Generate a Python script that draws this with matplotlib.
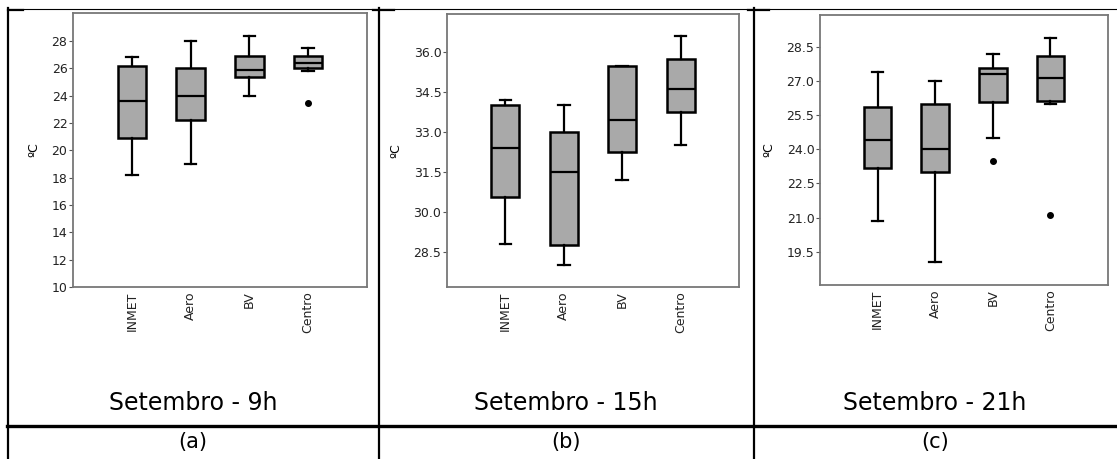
import matplotlib.pyplot as plt
from matplotlib.lines import Line2D

W, H = 1117, 459

stations = ['INMET', 'Aero', 'BV', 'Centro']

# box stats per panel: whisker low, Q1, median, Q3, whisker high
set_9h = {
    'whislo': [18.2, 19.0, 24.0, 25.8],
    'q1':     [20.9, 22.2, 25.4, 26.0],
    'med':    [23.6, 24.0, 25.9, 26.4],
    'q3':     [26.2, 26.0, 26.9, 26.9],
    'whishi': [26.8, 28.0, 28.4, 27.5],
}
fliers_9h = [[], [], [], [23.5]]

set_15h = {
    'whislo': [28.8, 28.0, 31.2, 32.5],
    'q1':     [30.55, 28.75, 32.25, 33.75],
    'med':    [32.4, 31.5, 33.45, 34.6],
    'q3':     [34.0, 33.0, 35.5, 35.75],
    'whishi': [34.2, 34.0, 35.5, 36.6],
}
fliers_15h = [[], [], [], []]

set_21h = {
    'whislo': [20.85, 19.05, 24.5, 26.0],
    'q1':     [23.2, 23.0, 26.1, 26.15],
    'med':    [24.4, 24.0, 27.3, 27.15],
    'q3':     [25.85, 26.0, 27.6, 28.1],
    'whishi': [27.4, 27.0, 28.2, 28.9],
}
fliers_21h = [[], [], [23.5], [21.1]]

titles = ['Setembro - 9h', 'Setembro - 15h', 'Setembro - 21h']
letters = ['(a)', '(b)', '(c)']

yticks_9h = [10, 12, 14, 16, 18, 20, 22, 24, 26, 28]
yticks_15h = [28.5, 30.0, 31.5, 33.0, 34.5, 36.0]
yticks_21h = [19.5, 21.0, 22.5, 24.0, 25.5, 27.0, 28.5]


def make_stats(d, fliers):
    out = []
    for i, name in enumerate(stations):
        out.append({'label': name, 'whislo': d['whislo'][i], 'q1': d['q1'][i],
                    'med': d['med'][i], 'q3': d['q3'][i], 'whishi': d['whishi'][i],
                    'fliers': fliers[i]})
    return out


def px_axes(fig, left, right, top, bottom):
    return fig.add_axes([left / W, (H - bottom) / H, (right - left) / W, (bottom - top) / H])


panels = [
    (set_9h, fliers_9h, yticks_9h, (10, 30.05), '{:.0f}', (73, 367, 13, 287)),
    (set_15h, fliers_15h, yticks_15h, (27.17, 37.44), '{:.1f}', (447, 739, 14, 287)),
    (set_21h, fliers_21h, yticks_21h, (18.03, 29.92), '{:.1f}', (820, 1108, 15, 285)),
]

fig = plt.figure(figsize=(W / 100, H / 100), dpi=100)

for d, fl, yt, ylim, fmt, box in panels:
    ax = px_axes(fig, *box)
    ax.bxp(make_stats(d, fl), positions=[1, 2, 3, 4], widths=0.48, capwidths=0.2,
           patch_artist=True,
           boxprops=dict(facecolor='#a9a9a9', edgecolor='black', linewidth=1.8),
           medianprops=dict(color='black', linewidth=1.6),
           whiskerprops=dict(color='black', linewidth=1.6),
           capprops=dict(color='black', linewidth=1.6),
           flierprops=dict(marker='o', markerfacecolor='black', markeredgecolor='black',
                           markersize=4))
    ax.set_xlim(0, 5)
    ax.set_ylim(*ylim)
    ax.set_yticks(yt)
    ax.set_yticklabels([fmt.format(v) for v in yt], fontsize=9, color='#222222')
    ax.set_xticks([1, 2, 3, 4])
    ax.set_xticklabels(stations, rotation=90, fontsize=9, color='#222222')
    ax.tick_params(axis='x', length=0, pad=3)
    ax.tick_params(axis='y', length=3, width=0.8, color='#555555', pad=1)
    ax.set_ylabel('ºC', fontsize=9, labelpad=8)
    for s in ax.spines.values():
        s.set_color('#777777')
        s.set_linewidth(1.3)


def hline(y, x0, x1, lw):
    fig.add_artist(Line2D([x0 / W, x1 / W], [1 - y / H, 1 - y / H], color='black', linewidth=lw))


def vline(x, y0, y1, lw):
    fig.add_artist(Line2D([x / W, x / W], [1 - y0 / H, 1 - y1 / H], color='black', linewidth=lw))


# table grid
hline(8.5, 8, W, 0.8)
hline(426, 7, W, 2.4)
for x in [8, 379, 754]:
    vline(x, 8, H, 1.6)
for x in [8, 379, 754]:
    hline(9.5, x - 6 if x > 8 else x, x + 15, 1.6)

cell_centers = [193, 566, 935]
for cx, t, l in zip(cell_centers, titles, letters):
    fig.text(cx / W, 1 - 403 / H, t, ha='center', va='center', fontsize=17)
    fig.text(cx / W, 1 - 442 / H, l, ha='center', va='center', fontsize=15)

fig.savefig('out.png', dpi=100)
